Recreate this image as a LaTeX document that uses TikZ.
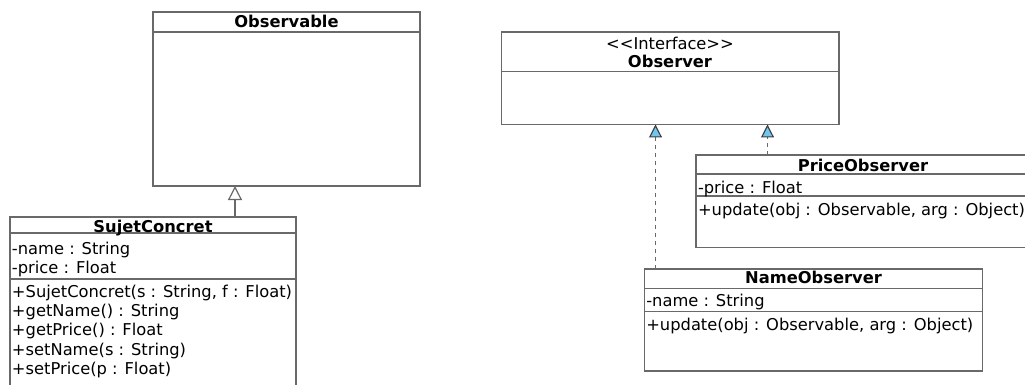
\documentclass[tikz,border=0pt]{standalone}
\usepackage{fontspec}
\setmainfont{DejaVu Sans}
\usetikzlibrary{arrows.meta}
\definecolor{boxline}{RGB}{105,105,105}
\definecolor{tipblue}{RGB}{112,198,238}
\definecolor{tipline}{RGB}{60,60,60}
\tikzset{
  classbox/.style={draw=boxline, line width=1.4pt, inner sep=0pt, outer sep=0pt, anchor=north west, fill=white},
  divider/.style={draw=boxline, line width=1.4pt},
  txt/.style={inner sep=0pt, outer sep=0pt, anchor=base west, font=\fontsize{16.3pt}{19.5pt}\selectfont},
  ttl/.style={inner sep=0pt, outer sep=0pt, anchor=base, font=\fontsize{16.3pt}{19.5pt}\selectfont\bfseries},
  stereo/.style={inner sep=0pt, outer sep=0pt, anchor=base, font=\fontsize{16.3pt}{19.5pt}\selectfont},
  inherit/.style={draw=boxline, line width=1.4pt, -{Triangle[length=14pt, width=14pt, fill=white, color=boxline, line width=1.2pt]}},
  realize/.style={draw=boxline, line width=1.4pt, dash pattern=on 4pt off 4pt, -{Triangle[length=13pt, width=13pt, fill=tipblue, color=tipline, line width=1.1pt]}},
}
\begin{document}
\begin{tikzpicture}[x=1pt, y=-1pt]
\useasboundingbox (0,0) rectangle (1025,385);
\clip (0,0) rectangle (1025,385);
\fill[white] (0,0) rectangle (1025,385);

% Observable
\node[classbox, minimum width=267pt, minimum height=174pt] (obs) at (153,12) {};
\draw[divider] ([yshift=-20pt]obs.north west) -- ([yshift=-20pt]obs.north east);
\node[ttl] (obst) at (286.5,28) {Observable};

% SujetConcret
\node[classbox, minimum width=286pt, minimum height=200pt] (sujet) at (10,217) {};
\draw[divider] ([yshift=-16pt]sujet.north west) -- ([yshift=-16pt]sujet.north east);
\draw[divider] ([yshift=-62pt]sujet.north west) -- ([yshift=-62pt]sujet.north east);
\node[ttl] (sujt) at (153,232) {SujetConcret};
\node[txt] (sa1) at (12,254) {-name : String};
\node[txt] (sa2) at (12,273.5) {-price : Float};
\node[txt] (sm1) at (12,297.5) {+SujetConcret(s : String, f : Float)};
\node[txt] (sm2) at (12,316.7) {+getName() : String};
\node[txt] (sm3) at (12,335.9) {+getPrice() : Float};
\node[txt] (sm4) at (12,355.1) {+setName(s : String)};
\node[txt] (sm5) at (12,374.3) {+setPrice(p : Float)};

% Observer
\node[classbox, minimum width=337.5pt, minimum height=92.5pt] (observer) at (501.5,32) {};
\draw[divider] ([yshift=-39.5pt]observer.north west) -- ([yshift=-39.5pt]observer.north east);
\node[stereo] (obsst) at (670,50) {{<}{<}Interface{>}{>}};
\node[ttl] (obsrt) at (670,67.5) {Observer};

% PriceObserver
\node[classbox, minimum width=334pt, minimum height=92.5pt] (priceobs) at (696,155) {};
\draw[divider] ([yshift=-19pt]priceobs.north west) -- ([yshift=-19pt]priceobs.north east);
\draw[divider] ([yshift=-41pt]priceobs.north west) -- ([yshift=-41pt]priceobs.north east);
\node[ttl] (pot) at (863,171.5) {PriceObserver};
\node[txt] (pa1) at (698,193) {-price : Float};
\node[txt] (pm1) at (698,215) {+update(obj : Observable, arg : Object)};

% NameObserver
\node[classbox, minimum width=338.4pt, minimum height=102pt] (nameobs) at (644.3,269) {};
\draw[divider] ([yshift=-19.3pt]nameobs.north west) -- ([yshift=-19.3pt]nameobs.north east);
\draw[divider] ([yshift=-42.7pt]nameobs.north west) -- ([yshift=-42.7pt]nameobs.north east);
\node[ttl] (not) at (813.5,283.5) {NameObserver};
\node[txt] (na1) at (646.3,306) {-name : String};
\node[txt] (nm1) at (646.3,330) {+update(obj : Observable, arg : Object)};

% Connectors
\draw[inherit] ([xshift=225pt]sujet.north west) -- ([xshift=225pt]sujet.north west |- obs.south);
\draw[realize] ([xshift=11.2pt]nameobs.north west) -- ([xshift=11.2pt]nameobs.north west |- observer.south);
\draw[realize] ([xshift=71.5pt]priceobs.north west) -- ([xshift=71.5pt]priceobs.north west |- observer.south);
\end{tikzpicture}
\end{document}
